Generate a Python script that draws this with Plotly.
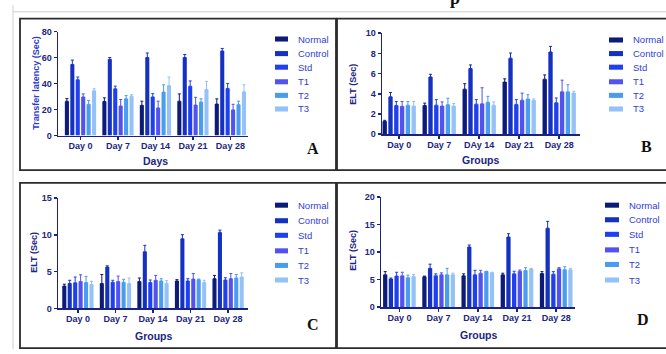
import plotly.graph_objects as go

W, H = 666, 354

# ---------------- data ----------------
series = ["Normal", "Control", "Std", "T1", "T2", "T3"]
colors = ["#0c1a78", "#1431c2", "#1f40f0", "#5252f0", "#4a9cf0", "#94c2f8"]

days_A = ["Day 0", "Day 7", "Day 14", "Day 21", "Day 28"]
days_B = ["Day 0", "Day 7", "DAy 14", "Day 21", "Day 28"]
days_C = ["Day 0", "Day 7", "Day 14", "Day 21", "Day 28"]
days_D = ["Day 0", "Day 7", "Day 14", "Day 21", "Day 28"]

# Panel A: transfer latency (Sec)
tl_mean = [
    [26.4, 26.2, 23.2, 26.4, 24.2],
    [54.6, 58.6, 60.0, 60.0, 65.0],
    [42.9, 35.9, 29.7, 37.9, 36.1],
    [29.7, 22.7, 21.2, 23.4, 19.7],
    [24.0, 28.2, 33.4, 25.7, 23.7],
    [34.4, 30.2, 38.4, 35.4, 33.6],
]
tl_sem = [
    [2.0, 2.8, 3.2, 5.6, 4.0],
    [3.4, 1.4, 3.5, 2.3, 2.0],
    [2.1, 2.1, 2.5, 4.1, 3.9],
    [2.3, 5.0, 5.2, 6.0, 4.3],
    [3.0, 2.5, 5.6, 2.5, 2.7],
    [1.6, 1.2, 6.6, 6.2, 5.4],
]

# Panel B: ELT (Sec)
eltB_mean = [
    [1.28, 2.85, 4.46, 5.16, 5.45],
    [3.70, 5.67, 6.50, 7.53, 8.14],
    [2.85, 2.88, 2.98, 2.95, 3.11],
    [2.76, 2.79, 3.01, 3.37, 4.20],
    [2.88, 2.92, 3.17, 3.49, 4.20],
    [2.79, 2.79, 2.88, 3.37, 4.07],
]
eltB_sem = [
    [0.10, 0.23, 0.54, 0.32, 0.42],
    [0.43, 0.26, 0.36, 0.51, 0.55],
    [0.39, 0.55, 0.45, 0.48, 0.48],
    [0.48, 0.41, 1.59, 0.70, 1.15],
    [0.36, 0.64, 0.58, 0.42, 0.70],
    [0.45, 0.25, 0.32, 0.12, 0.19],
]

# Panel C: ELT (Sec)
eltC_mean = [
    [3.04, 3.39, 3.65, 3.74, 4.05],
    [3.39, 5.63, 7.70, 9.46, 10.34],
    [3.48, 3.56, 3.52, 3.74, 3.87],
    [3.65, 3.65, 3.83, 4.00, 4.05],
    [3.52, 3.56, 3.74, 3.92, 4.14],
    [3.26, 3.39, 3.43, 3.56, 4.27],
]
eltC_sem = [
    [0.26, 1.23, 0.49, 0.18, 0.44],
    [0.44, 0.17, 0.88, 0.57, 0.31],
    [0.79, 0.27, 0.35, 0.31, 0.31],
    [0.93, 0.75, 0.66, 0.75, 0.70],
    [0.84, 0.40, 0.31, 0.08, 0.48],
    [0.44, 0.75, 0.35, 0.27, 0.57],
]

# Panel D: ELT (Sec)
eltD_mean = [
    [5.88, 5.53, 5.70, 5.88, 6.12],
    [5.12, 7.06, 10.94, 12.76, 14.35],
    [5.65, 5.70, 5.88, 6.06, 6.00],
    [5.70, 5.88, 6.18, 6.53, 7.00],
    [5.35, 5.88, 6.47, 6.65, 6.82],
    [5.60, 5.88, 6.24, 6.94, 6.82],
]
eltD_sem = [
    [0.59, 0.12, 0.36, 0.30, 0.35],
    [0.18, 0.76, 0.36, 0.59, 1.25],
    [0.70, 0.36, 0.82, 0.47, 0.47],
    [0.65, 0.36, 0.52, 0.23, 0.18],
    [0.47, 1.18, 0.06, 0.53, 0.53],
    [0.34, 0.30, 0.11, 0.12, 0.24],
]

# ---------------- layout helpers ----------------
def px(x):
    return x / W

def py(y):
    return 1 - y / H

AXC = "#1b2382"
TXT = "#1c2580"
LEG = "#3040d8"
FONT = "Liberation Sans"

panels = [
    dict(cats=days_A, mean=tl_mean, sem=tl_sem, yr=[0, 80], dt=20,
         xd=(58, 248), yd=(27.3, 134.3), xr=[-0.6, 4.47],
         ytitle="Transfer latency (Sec)", ytc="#2b3bc8", ytpos=(36, 80),
         xtitle="Days", xtpos=(155, 161),
         leg_sw=(275, 288), leg_tx=296, leg_y=[35, 50, 64, 79, 93, 107],
         letter="A", lpos=(313, 148)),
    dict(cats=days_B, mean=eltB_mean, sem=eltB_sem, yr=[0, 10], dt=2,
         xd=(382, 580), yd=(29, 133), xr=[-0.43, 4.52],
         ytitle="ELT (Sec)", ytc=TXT, ytpos=(353, 82),
         xtitle="Groups", xtpos=(480, 159),
         leg_sw=(609, 623), leg_tx=631, leg_y=[36, 50, 64, 79, 93, 107],
         letter="B", lpos=(646, 146)),
    dict(cats=days_C, mean=eltC_mean, sem=eltC_sem, yr=[0, 15], dt=5,
         xd=(58, 248), yd=(198.7, 312.3), xr=[-0.53, 4.53],
         ytitle="ELT (Sec)", ytc=TXT, ytpos=(34, 255),
         xtitle="Groups", xtpos=(153, 341),
         leg_sw=(275, 288), leg_tx=296, leg_y=[206, 222, 237, 253, 268, 283],
         letter="C", lpos=(313, 329)),
    dict(cats=days_D, mean=eltD_mean, sem=eltD_sem, yr=[0, 20], dt=5,
         xd=(381, 575), yd=(197.7, 311), xr=[-0.47, 4.48],
         ytitle="ELT (Sec)", ytc=TXT, ytpos=(353, 253),
         xtitle="Groups", xtpos=(478, 340),
         leg_sw=(605, 619), leg_tx=627, leg_y=[206, 221, 236, 252, 267, 283],
         letter="D", lpos=(643, 324)),
]

fig = go.Figure()
shapes = []
annotations = []
layout_axes = {}

for i, p in enumerate(panels):
    n = i + 1
    xa = "x" if n == 1 else f"x{n}"
    ya = "y" if n == 1 else f"y{n}"
    for s, name in enumerate(series):
        fig.add_trace(go.Bar(
            x=p["cats"], y=p["mean"][s], name=name,
            marker=dict(color=colors[s], line=dict(width=0)),
            error_y=dict(type="data", symmetric=False, array=p["sem"][s],
                         arrayminus=[0] * len(p["cats"]),
                         color=colors[s], thickness=1, width=1.5),
            xaxis=xa, yaxis=ya, showlegend=False, hoverinfo="skip",
        ))
    xkey = "xaxis" if n == 1 else f"xaxis{n}"
    ykey = "yaxis" if n == 1 else f"yaxis{n}"
    layout_axes[xkey] = dict(
        domain=[px(p["xd"][0]), px(p["xd"][1])], anchor=ya,
        type="category", range=p["xr"], showgrid=False, zeroline=False,
        showline=True, linecolor=AXC, linewidth=1.5,
        ticks="outside", ticklen=3, tickwidth=1.5, tickcolor=AXC,
        ticklabelstandoff=-2,
        tickfont=dict(family=FONT, size=9, color=TXT, weight="bold"),
    )
    layout_axes[ykey] = dict(
        domain=[py(p["yd"][1]), py(p["yd"][0])], anchor=xa,
        range=p["yr"], dtick=p["dt"], tick0=0, showgrid=False, zeroline=False,
        showline=True, linecolor=AXC, linewidth=1.5,
        ticks="outside", ticklen=3, tickwidth=1.5, tickcolor=AXC,
        tickfont=dict(family=FONT, size=9, color=TXT, weight="bold"),
    )
    annotations.append(dict(
        text=p["ytitle"], x=px(p["ytpos"][0]), y=py(p["ytpos"][1]),
        xref="paper", yref="paper", showarrow=False, textangle=-90,
        xanchor="center", yanchor="middle",
        font=dict(family=FONT, size=9, color=p["ytc"], weight="bold")))
    annotations.append(dict(
        text=p["xtitle"], x=px(p["xtpos"][0]), y=py(p["xtpos"][1]),
        xref="paper", yref="paper", showarrow=False,
        xanchor="center", yanchor="middle",
        font=dict(family=FONT, size=10.5, color=TXT, weight="bold")))
    annotations.append(dict(
        text=p["letter"], x=px(p["lpos"][0]), y=py(p["lpos"][1]),
        xref="paper", yref="paper", showarrow=False,
        xanchor="center", yanchor="middle",
        font=dict(family="Liberation Serif", size=16, color="#111111", weight="bold")))
    for s, name in enumerate(series):
        yc = p["leg_y"][s]
        shapes.append(dict(type="rect", xref="paper", yref="paper",
                           x0=px(p["leg_sw"][0]), x1=px(p["leg_sw"][1]),
                           y0=py(yc + 2.6), y1=py(yc - 2.6),
                           fillcolor=colors[s], line=dict(width=0)))
        annotations.append(dict(
            text=name, x=px(p["leg_tx"]), y=py(yc),
            xref="paper", yref="paper", showarrow=False,
            xanchor="left", yanchor="middle",
            font=dict(family=FONT, size=9.5, color=LEG)))

# panel boxes
boxes = [(20, 14, 336, 170), (337, 14, 672, 170), (20, 183, 336, 353), (337, 183, 672, 353)]
for (x0, y0, x1, y1) in boxes:
    shapes.append(dict(type="rect", xref="paper", yref="paper",
                       x0=px(x0), x1=px(x1), y0=py(y1), y1=py(y0),
                       line=dict(color="#2b2b2b", width=1.8), fillcolor="rgba(0,0,0,0)"))

# page lines
shapes.append(dict(type="line", xref="paper", yref="paper",
                   x0=px(13), x1=px(13), y0=0, y1=1,
                   line=dict(color="#cfcfcf", width=1)))
shapes.append(dict(type="line", xref="paper", yref="paper",
                   x0=px(13), x1=1, y0=py(7), y1=py(7),
                   line=dict(color="#cfcfcf", width=1)))

# clipped heading fragment (page title above the figure, cut by the frame)
annotations.append(dict(
    text="p", x=px(455), y=py(-7), xref="paper", yref="paper", showarrow=False,
    xanchor="center", yanchor="middle",
    font=dict(family="Liberation Serif", size=18, color="#111111", weight="bold")))

fig.update_layout(
    width=W, height=H, margin=dict(l=0, r=0, t=0, b=0),
    paper_bgcolor="white", plot_bgcolor="rgba(0,0,0,0)",
    barmode="group", bargap=0.13, bargroupgap=0.25,
    showlegend=False, shapes=shapes, annotations=annotations,
    hovermode=False,
    **layout_axes,
)

fig.write_html(
    "out.html",
    config={"displayModeBar": False, "staticPlot": True},
    post_script="document.body.style.margin='0';document.body.style.overflow='hidden';",
)
